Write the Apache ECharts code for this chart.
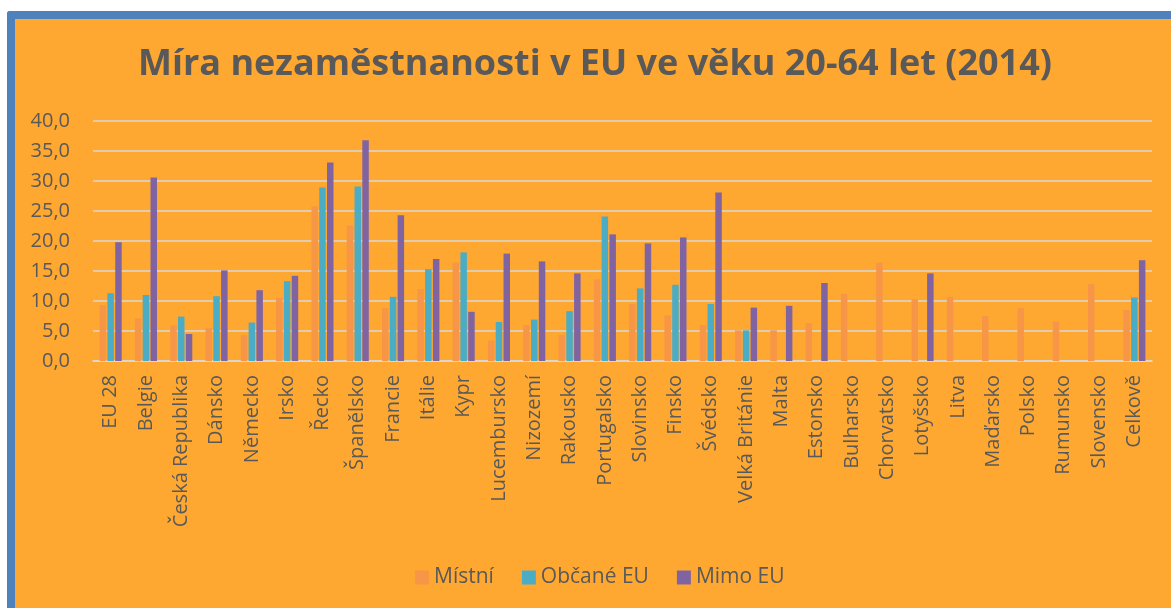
<!DOCTYPE html>
<html>
<head>
<meta charset="utf-8">
<script src="https://cdn.jsdelivr.net/npm/echarts@6/dist/echarts.min.js"></script>
<style>
  html, body { margin: 0; padding: 0; background: #fff; overflow: hidden; }
  #frame {
    position: absolute; left: 7px; top: 11px; width: 1164px; height: 597px;
    border-left: 8px solid #4F81BD; border-top: 8px solid #4F81BD;
    border-top-left-radius: 3px; background: #FEA832;
  }
  #chart { width: 1156px; height: 589px; }
</style>
</head>
<body>
<div id="frame"><div id="chart"></div></div>
<script>
var categories = ['EU 28', 'Belgie', 'Česká Republika', 'Dánsko', 'Německo', 'Irsko', 'Řecko', 'Španělsko',
  'Francie', 'Itálie', 'Kypr', 'Lucembursko', 'Nizozemí', 'Rakousko', 'Portugalsko', 'Slovinsko',
  'Finsko', 'Švédsko', 'Velká Británie', 'Malta', 'Estonsko', 'Bulharsko', 'Chorvatsko', 'Lotyšsko',
  'Litva', 'Maďarsko', 'Polsko', 'Rumunsko', 'Slovensko', 'Celkově']

var mistni = [9.3, 7.1, 5.9, 5.5, 4.3, 10.5, 25.8, 22.6,
  8.8, 12.0, 16.4, 3.4, 6.0, 4.3, 13.6, 9.5,
  7.6, 6.0, 5.1, 5.1, 6.3, 11.2, 16.4, 10.3,
  10.7, 7.5, 8.8, 6.6, 12.8, 8.5]
var obcaneEU = [11.3, 11.0, 7.4, 10.8, 6.4, 13.3, 28.9, 29.1,
  10.7, 15.3, 18.1, 6.5, 6.9, 8.3, 24.1, 12.1,
  12.7, 9.5, 5.1, null, null, null, null, null,
  null, null, null, null, null, 10.6]
var mimoEU = [19.8, 30.6, 4.5, 15.1, 11.8, 14.2, 33.1, 36.8,
  24.3, 17.0, 8.2, 17.9, 16.6, 14.6, 21.1, 19.6,
  20.6, 28.1, 8.9, 9.2, 13.0, null, null, 14.6,
  null, null, null, null, null, 16.8]

var chart = echarts.init(document.getElementById('chart'))
var textColor = '#595959'

function bar(name, data, color) {
  return {
    name: name,
    type: 'bar',
    data: data,
    barWidth: 6.5,
    barGap: '20%',
    itemStyle: { color: color },
    animation: false
  }
}

chart.setOption({
  backgroundColor: '#FEA832',
  textStyle: { fontFamily: 'Open Sans' },
  title: {
    text: 'Míra nezaměstnanosti v EU ve věku 20-64 let (2014)',
    left: 575,
    textAlign: 'center',
    top: 23,
    textStyle: { color: textColor, fontSize: 36, fontWeight: 'bold', fontFamily: 'Open Sans' }
  },
  legend: {
    data: ['Místní', 'Občané EU', 'Mimo EU'],
    left: 395,
    top: 543,
    itemWidth: 14,
    itemHeight: 14,
    itemGap: 28,
    icon: 'rect',
    textStyle: { color: textColor, fontSize: 21, fontFamily: 'Open Sans' }
  },
  grid: {
    left: 78,
    right: 19,
    top: 102,
    height: 240
  },
  xAxis: {
    type: 'category',
    data: categories,
    axisTick: { show: false },
    axisLine: { lineStyle: { color: '#D9D9D9', width: 1.5 } },
    axisLabel: {
      rotate: 90,
      interval: 0,
      margin: 14,
      color: textColor,
      fontSize: 20,
      fontFamily: 'Open Sans'
    }
  },
  yAxis: {
    type: 'value',
    min: 0,
    max: 40,
    interval: 5,
    axisLine: { show: false },
    axisTick: { show: false },
    splitLine: { lineStyle: { color: '#D9D9D9', width: 1.5 } },
    axisLabel: {
      margin: 23,
      color: textColor,
      fontSize: 20,
      fontFamily: 'Open Sans',
      formatter: function (v) { return v.toFixed(1).replace('.', ',') }
    }
  },
  series: [
    bar('Místní', mistni, '#F79646'),
    bar('Občané EU', obcaneEU, '#4BACC6'),
    bar('Mimo EU', mimoEU, '#8064A2')
  ]
})
</script>
</body>
</html>
